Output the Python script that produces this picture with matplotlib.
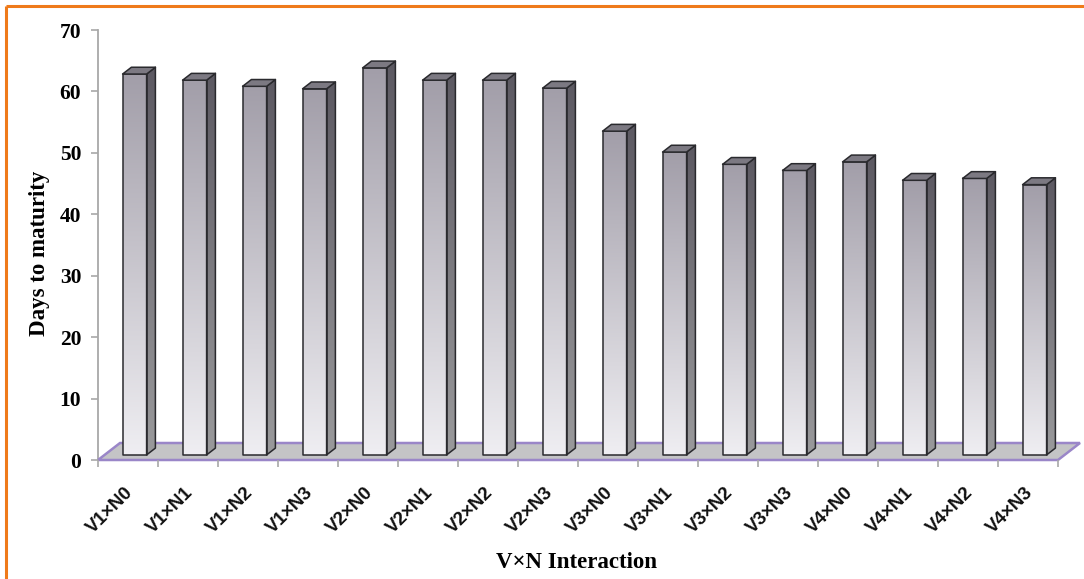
import numpy as np
import matplotlib
matplotlib.use('Agg')
import matplotlib.pyplot as plt
from matplotlib.patches import Polygon
from matplotlib.lines import Line2D
from matplotlib.colors import LinearSegmentedColormap

categories = ['V1×N0', 'V1×N1', 'V1×N2', 'V1×N3',
              'V2×N0', 'V2×N1', 'V2×N2', 'V2×N3',
              'V3×N0', 'V3×N1', 'V3×N2', 'V3×N3',
              'V4×N0', 'V4×N1', 'V4×N2', 'V4×N3']
days_to_maturity = [62.0, 61.0, 60.0, 59.6, 63.0, 61.0, 61.0, 59.7,
                    52.7, 49.3, 47.3, 46.3, 47.7, 44.7, 45.0, 44.0]
y_ticks = [0, 10, 20, 30, 40, 50, 60, 70]

W, H = 1084, 579
fig = plt.figure(figsize=(W / 100, H / 100), dpi=100)
ax = fig.add_axes([98 / W, (H - 460) / H, 960 / W, 430 / H])
n = len(categories)
XMIN, XMAX = -0.5, n - 0.5
YMIN, YMAX = 0, 70
ax.set_xlim(XMIN, XMAX)
ax.set_ylim(YMIN, YMAX)

# depth of the 3-D floor in data units
DX = 22 / 60.0
DY = 17 * (YMAX - YMIN) / 430.0
BW = 0.4
D0, D1 = 0.3, 0.7

EDGE = '#2a2a2e'


def grad_poly(verts, c_top, c_bot, z):
    poly = Polygon(verts, closed=True, facecolor='none', edgecolor=EDGE,
                   lw=1.1, zorder=z + 0.5, joinstyle='round')
    ax.add_patch(poly)
    xs = [v[0] for v in verts]
    ys = [v[1] for v in verts]
    cmap = LinearSegmentedColormap.from_list('g', [c_bot, c_top])
    grad = np.linspace(0, 1, 256).reshape(-1, 1)
    im = ax.imshow(grad, cmap=cmap, extent=(min(xs), max(xs), min(ys), max(ys)),
                   origin='lower', aspect='auto', zorder=z, interpolation='bilinear')
    im.set_clip_path(poly)


# floor
floor = Polygon([(XMIN, 0), (XMAX, 0), (XMAX + DX, DY), (XMIN + DX, DY)], closed=True,
                facecolor='#c4c4c6', edgecolor='#9a86c8', lw=1.8, zorder=1, clip_on=False)
ax.add_patch(floor)

ddx = (D1 - D0) * DX
ddy = (D1 - D0) * DY
for i, v in enumerate(days_to_maturity):
    xl = i - BW / 2 + D0 * DX
    xr = i + BW / 2 + D0 * DX
    yb = D0 * DY
    yt = v + D0 * DY
    z = 3 + i * 0.01
    # front face
    grad_poly([(xl, yb), (xr, yb), (xr, yt), (xl, yt)], '#a29ea9', '#efeef2', z)
    # side face
    grad_poly([(xr, yb), (xr + ddx, yb + ddy), (xr + ddx, yt + ddy), (xr, yt)],
              '#5c5962', '#9a9a9c', z)
    # top face
    top = Polygon([(xl, yt), (xr, yt), (xr + ddx, yt + ddy), (xl + ddx, yt + ddy)],
                  closed=True, facecolor='#7c7982', edgecolor=EDGE, lw=1.1,
                  zorder=z + 0.5, joinstyle='round')
    ax.add_patch(top)

ax.set_xlim(XMIN, XMAX)
ax.set_ylim(YMIN, YMAX)

# axes styling
for s in ['top', 'right', 'bottom']:
    ax.spines[s].set_visible(False)
ax.spines['left'].set_color('#a8a8a8')
ax.spines['left'].set_linewidth(1.3)
ax.spines['left'].set_zorder(0.5)

ax.set_yticks(y_ticks)
ax.set_yticklabels([str(t) for t in y_ticks], fontfamily='Liberation Serif',
                   fontweight='bold', fontsize=15.5)
ax.tick_params(axis='y', length=5, width=1.2, color='#a8a8a8', pad=7)

ax.set_xticks(np.arange(n))
ax.set_xticklabels([''] * n)
ax.set_xticks(np.arange(n + 1) - 0.5, minor=True)
ax.tick_params(axis='x', which='major', length=0)
ax.tick_params(axis='x', which='minor', length=5, width=1.2, color='#a8a8a8',
               direction='out', bottom=True)

for i, lab in enumerate(categories):
    ax.annotate(lab, xy=(i, 0), xycoords=('data', 'axes fraction'),
                xytext=(2.0, -21.5), textcoords='offset points',
                rotation=45, rotation_mode='anchor', ha='right', va='center',
                fontsize=13.5, fontweight='bold', fontfamily='Liberation Sans',
                color='#111111', annotation_clip=False)

fig.text(40 / W, (H - 253) / H, 'Days to maturity', rotation=90, ha='center',
         va='center', fontfamily='Liberation Serif', fontweight='bold', fontsize=16.5)
fig.text(577 / W, (H - 563) / H, 'V×N Interaction', ha='center', va='center',
         fontfamily='Liberation Serif', fontweight='bold', fontsize=16.5)

# orange frame
ORANGE = '#ef7a1a'
fig.add_artist(Line2D([6 / W, 1.0], [(H - 6) / H, (H - 6) / H], transform=fig.transFigure,
                      color=ORANGE, lw=2.2, solid_capstyle='butt'))
fig.add_artist(Line2D([6 / W, 6 / W], [0, (H - 6) / H], transform=fig.transFigure,
                      color=ORANGE, lw=2.2, solid_capstyle='butt'))

fig.savefig('out.png', dpi=100)
